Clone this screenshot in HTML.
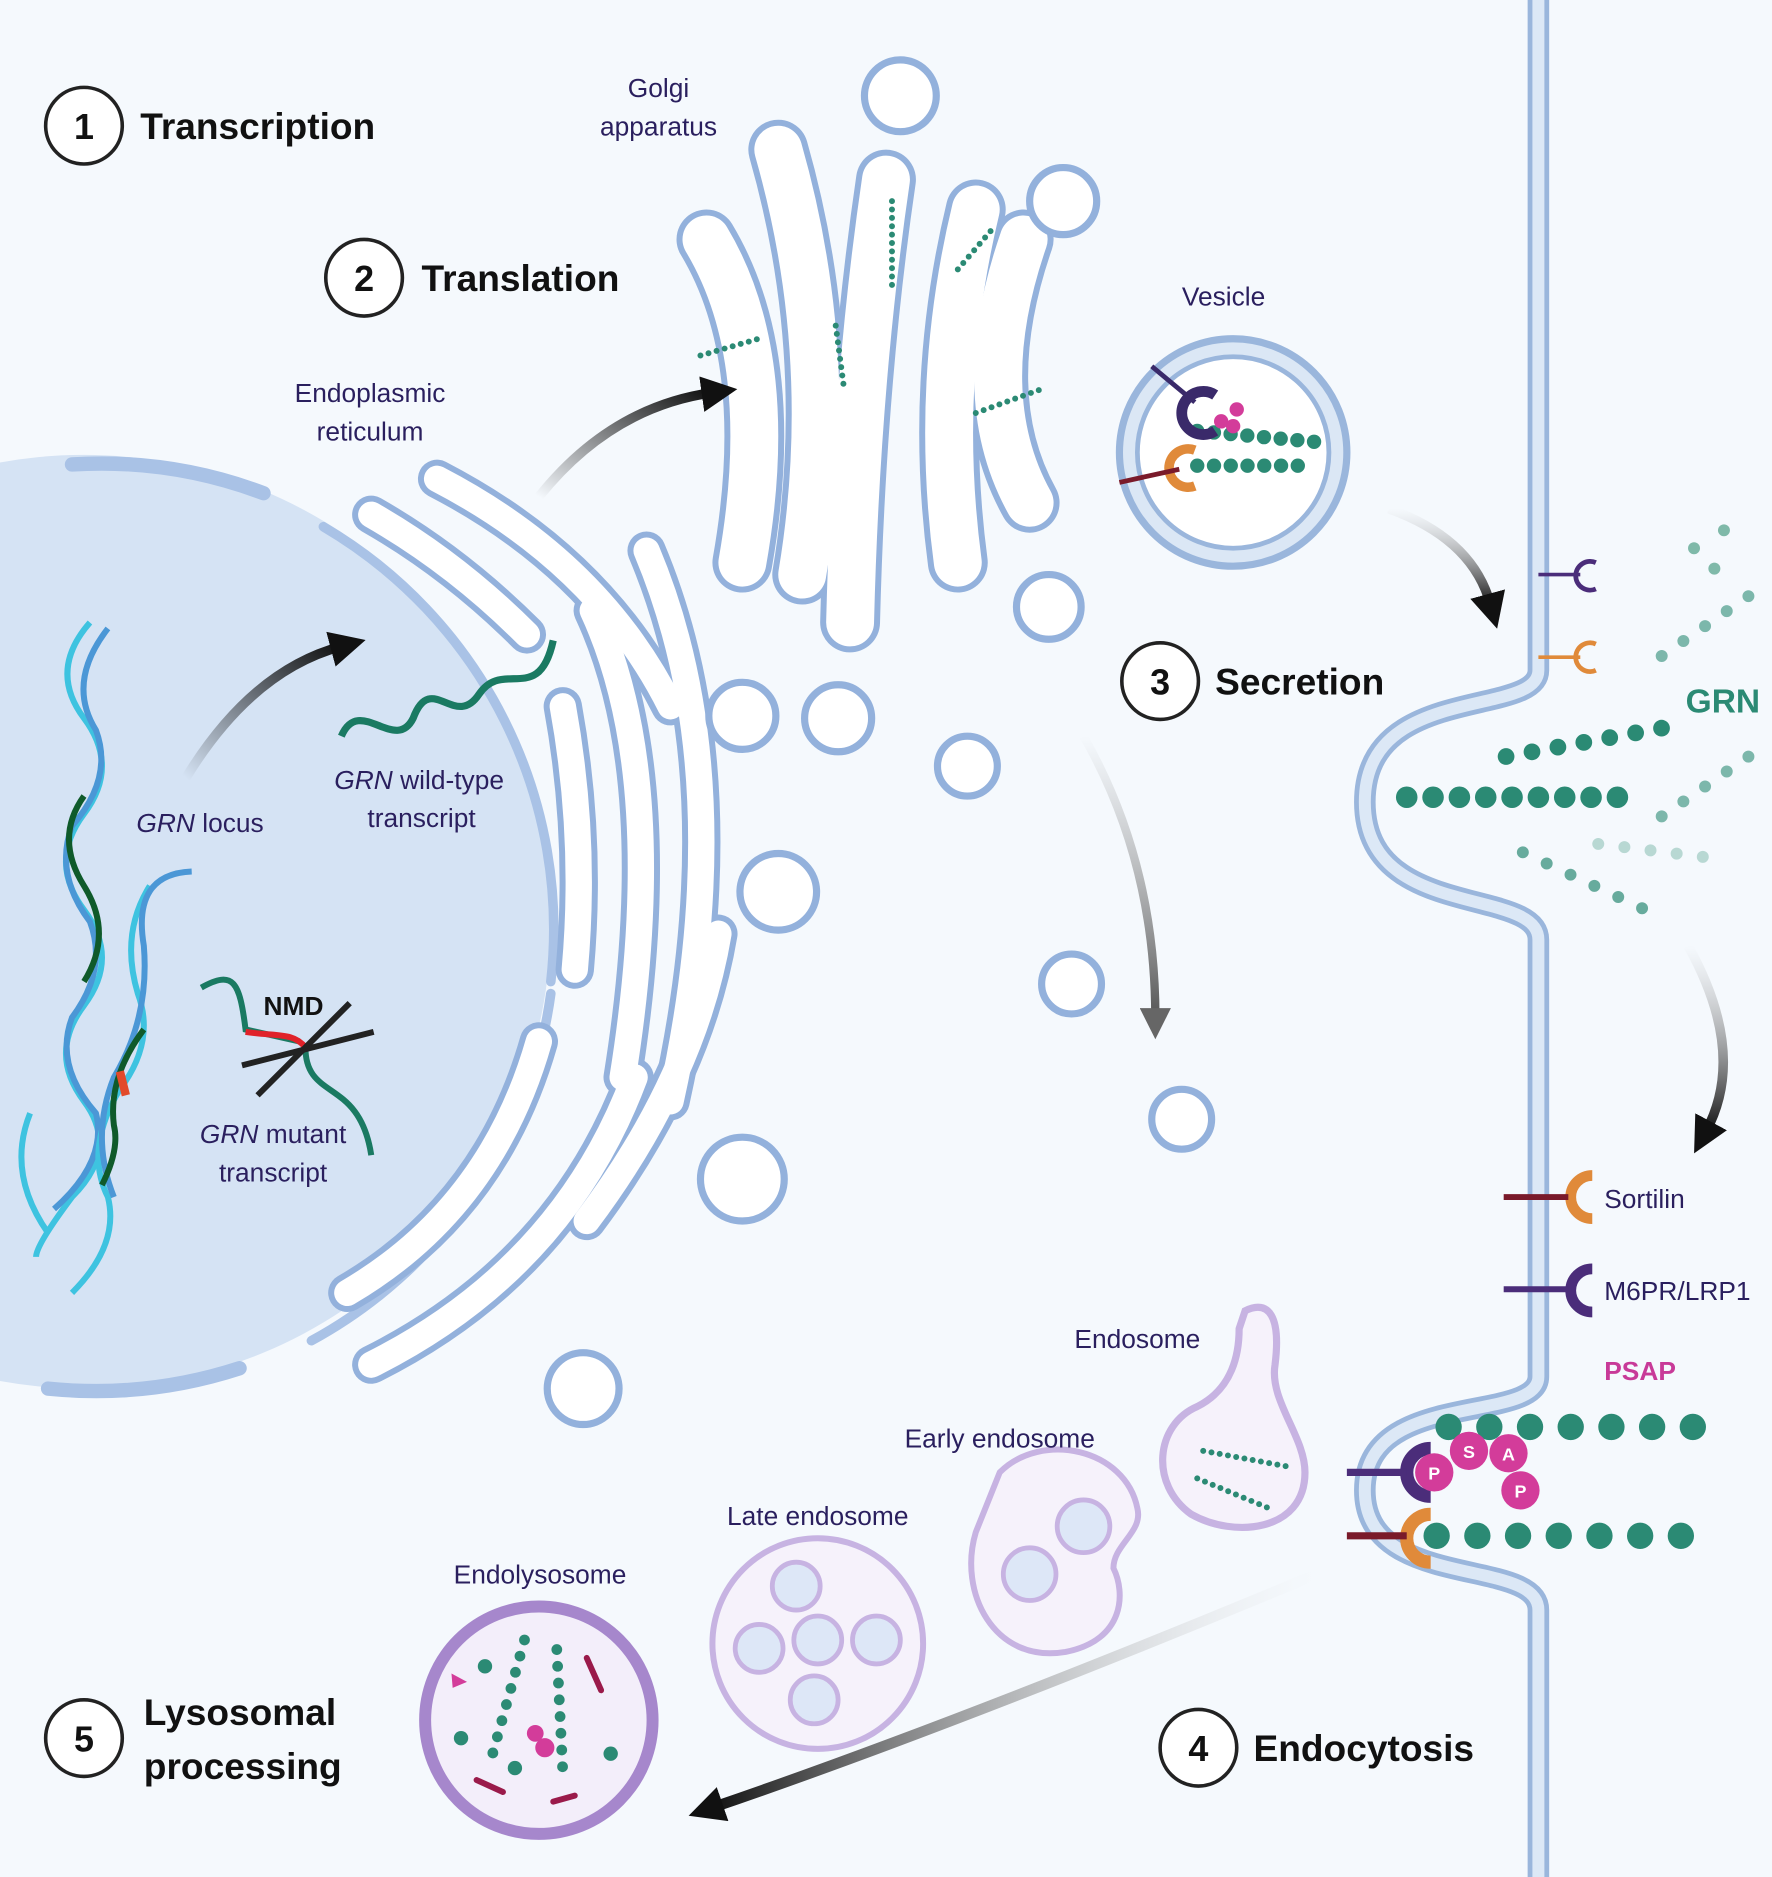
<!DOCTYPE html>
<html><head><meta charset="utf-8"><style>
html,body{margin:0;padding:0;background:#f5f9fd}
svg{display:block}
text{font-family:"Liberation Sans",sans-serif;fill:#2a1f5e}
.b{font-weight:bold;fill:#111}
.tb{fill:none;stroke:#93b1dc;stroke-linecap:round}
.tw{fill:none;stroke:#fff;stroke-linecap:round}
.ves{fill:#fff;stroke:#93b1dc;stroke-width:6}
.bead{fill:none;stroke:#2b8a74;stroke-linecap:round}
</style></head><body>
<svg width="1772" height="1877" viewBox="0 0 1480 1568" xmlns="http://www.w3.org/2000/svg">
<defs>
<linearGradient id="ga" x1="0" y1="1" x2="1" y2="0"><stop offset="0" stop-color="#000" stop-opacity="0"/><stop offset="1" stop-color="#111"/></linearGradient>
<linearGradient id="gb" x1="0" y1="0" x2="0" y2="1"><stop offset="0" stop-color="#999" stop-opacity="0"/><stop offset="1" stop-color="#555"/></linearGradient>
<linearGradient id="gc" x1="0" y1="0" x2="0" y2="1"><stop offset="0" stop-color="#aaa" stop-opacity="0"/><stop offset="1" stop-color="#111"/></linearGradient>
<linearGradient id="gd" x1="1" y1="0" x2="0" y2="0"><stop offset="0" stop-color="#ddd" stop-opacity="0"/><stop offset="1" stop-color="#111"/></linearGradient>
<marker id="ah" markerWidth="30" markerHeight="30" refX="3" refY="5" orient="auto" markerUnits="userSpaceOnUse" viewBox="0 0 10 10"><path d="M0 0 L10 5 L0 10z" fill="#111"/></marker>
<marker id="ah2" markerWidth="26" markerHeight="26" refX="3" refY="5" orient="auto" markerUnits="userSpaceOnUse" viewBox="0 0 10 10"><path d="M0 0 L10 5 L0 10z" fill="#666"/></marker>
<path id="e1" d="M310 430 Q380 470 440 530"/>
<path id="e2" d="M365 400 Q500 470 560 590"/>
<path id="e3" d="M470 590 Q490 700 480 810"/>
<path id="e4" d="M495 510 Q560 650 520 900"/>
<path id="e5" d="M540 460 Q620 650 560 920"/>
<path id="e6" d="M290 1080 Q410 1010 450 870"/>
<path id="e7" d="M310 1140 Q470 1060 530 900"/>
<path id="e8" d="M490 1020 Q580 900 600 780"/>
<path id="g1" d="M590 200 Q650 300 620 470"/>
<path id="g2" d="M650 125 Q700 300 670 480"/>
<path id="g3" d="M740 150 Q715 320 710 520"/>
<path id="g4" d="M815 175 Q780 320 800 470"/>
<path id="g5" d="M855 200 Q810 330 860 420"/>
</defs>
<rect width="1480" height="1568" fill="#f5f9fd"/>
<!-- nucleus -->
<circle cx="70" cy="770" r="390" fill="#d5e3f4"/>
<path d="M60 388 A385 385 0 0 1 220 412" fill="none" stroke="#a9c2e6" stroke-width="12" stroke-linecap="round"/>
<path d="M270 440 A390 390 0 0 1 460 820" fill="none" stroke="#a9c2e6" stroke-width="8" stroke-linecap="round"/>
<path d="M460 830 A390 390 0 0 1 260 1120" fill="none" stroke="#a9c2e6" stroke-width="8" stroke-linecap="round"/>
<path d="M200 1143 A390 390 0 0 1 40 1160" fill="none" stroke="#a9c2e6" stroke-width="12" stroke-linecap="round"/>
<!-- membrane -->
<path d="M1285 0 L1285 560 C1285 600 1140 570 1140 670 C1140 770 1285 740 1285 785 L1285 1150 C1285 1190 1140 1160 1140 1245 C1140 1330 1285 1300 1285 1345 L1285 1568" fill="none" stroke="#9ab6dc" stroke-width="18"/>
<path d="M1285 0 L1285 560 C1285 600 1140 570 1140 670 C1140 770 1285 740 1285 785 L1285 1150 C1285 1190 1140 1160 1140 1245 C1140 1330 1285 1300 1285 1345 L1285 1568" fill="none" stroke="#dce8f6" stroke-width="10"/>
<!-- ER tubes -->
<g class="tb" stroke-width="32"><use href="#e1"/><use href="#e2"/><use href="#e3"/><use href="#e4"/><use href="#e5"/><use href="#e6"/><use href="#e7"/><use href="#e8"/></g>
<g class="tw" stroke-width="22"><use href="#e1"/><use href="#e2"/><use href="#e3"/><use href="#e4"/><use href="#e5"/><use href="#e6"/><use href="#e7"/><use href="#e8"/></g>
<circle cx="620" cy="598" r="28" class="ves"/><circle cx="620" cy="985" r="35" class="ves"/>
<circle cx="700" cy="600" r="28" class="ves"/><circle cx="808" cy="640" r="25" class="ves"/>
<circle cx="650" cy="745" r="32" class="ves"/><circle cx="487" cy="1160" r="30" class="ves"/>
<circle cx="895" cy="822" r="25" class="ves"/><circle cx="987" cy="935" r="25" class="ves"/>
<!-- Golgi -->
<g class="tb" stroke-width="50"><use href="#g1"/><use href="#g2"/><use href="#g3"/><use href="#g4"/><use href="#g5"/></g>
<g class="tw" stroke-width="40"><use href="#g1"/><use href="#g2"/><use href="#g3"/><use href="#g4"/><use href="#g5"/></g>
<circle cx="752" cy="80" r="30" class="ves"/><circle cx="888" cy="168" r="28" class="ves"/><circle cx="876" cy="507" r="27" class="ves"/>
<g class="bead" stroke-width="5" stroke-dasharray="0 7"><path d="M585 297 L637 282"/><path d="M698 272 L705 325"/><path d="M745 168 L745 245"/><path d="M800 225 L830 190"/><path d="M815 345 L870 325"/></g>
<!-- big vesicle -->
<circle cx="1030" cy="378" r="95" fill="#dbe7f5" stroke="#9ab6dc" stroke-width="6"/>
<circle cx="1030" cy="378" r="80" fill="#fff" stroke="#9ab6dc" stroke-width="4"/>
<g class="bead" stroke-width="12" stroke-dasharray="0 14"><path d="M1000 360 L1108 370"/><path d="M1000 389 L1095 389"/></g>
<path d="M1015 330 A18 18 0 1 0 1015 360" fill="none" stroke="#3a2a6a" stroke-width="9"/>
<path d="M998 376 A16 16 0 1 0 998 406" fill="none" stroke="#e08a3a" stroke-width="8"/>
<line x1="962" y1="306" x2="998" y2="336" stroke="#3a2a6a" stroke-width="4"/>
<line x1="935" y1="403" x2="985" y2="392" stroke="#7a1a2a" stroke-width="4"/>
<circle cx="1020" cy="352" r="6" fill="#d33c9a"/><circle cx="1033" cy="342" r="6" fill="#d33c9a"/><circle cx="1030" cy="356" r="6" fill="#d33c9a"/>
<!-- receptors on membrane -->
<path d="M1333 470 A12 12 0 1 0 1333 492" fill="none" stroke="#4b2d7a" stroke-width="4"/><line x1="1285" y1="480" x2="1320" y2="480" stroke="#4b2d7a" stroke-width="3"/>
<path d="M1333 538 A12 12 0 1 0 1333 560" fill="none" stroke="#e08a3a" stroke-width="4"/><line x1="1285" y1="549" x2="1320" y2="549" stroke="#e08a3a" stroke-width="3"/>
<!-- GRN chains -->
<g class="bead" stroke-dasharray="0 22">
<path d="M1175 666 L1355 666" stroke-width="18"/>
<path d="M1258 632 L1395 607" stroke-width="14"/>
<path d="M1388 548 L1475 488" stroke-width="10" opacity=".6"/>
<path d="M1388 682 L1475 622" stroke-width="10" opacity=".6"/>
<path d="M1272 712 L1385 765" stroke-width="10" opacity=".7"/>
<path d="M1335 705 L1440 718" stroke-width="10" opacity=".3"/>
</g>
<circle cx="1415" cy="458" r="5" fill="#7fb9a9"/><circle cx="1440" cy="443" r="5" fill="#7fb9a9"/><circle cx="1432" cy="475" r="5" fill="#7fb9a9"/>
<text x="1408" y="595" font-size="28" font-weight="bold" style="fill:#2b8a74">GRN</text>
<!-- sortilin etc -->
<path d="M1330 982 A18 18 0 1 0 1330 1018" fill="none" stroke="#e08a3a" stroke-width="9"/><line x1="1256" y1="1000" x2="1310" y2="1000" stroke="#7a1a2a" stroke-width="5"/>
<path d="M1330 1060 A18 18 0 1 0 1330 1096" fill="none" stroke="#4b2d7a" stroke-width="9"/><line x1="1256" y1="1077" x2="1310" y2="1077" stroke="#4b2d7a" stroke-width="5"/>
<text x="1340" y="1009" font-size="22">Sortilin</text>
<text x="1340" y="1086" font-size="22">M6PR/LRP1</text>
<text x="1340" y="1153" font-size="22" font-weight="bold" style="fill:#c83a98">PSAP</text>
<g class="bead" stroke-width="22" stroke-dasharray="0 34"><path d="M1210 1192 L1445 1192"/><path d="M1200 1283 L1430 1283"/></g>
<path d="M1195 1210 A20 20 0 1 0 1195 1250" fill="none" stroke="#4b2d7a" stroke-width="11"/><line x1="1125" y1="1230" x2="1175" y2="1230" stroke="#4b2d7a" stroke-width="6"/>
<path d="M1195 1265 A20 20 0 1 0 1195 1305" fill="none" stroke="#e08a3a" stroke-width="11"/><line x1="1125" y1="1283" x2="1175" y2="1283" stroke="#7a1a2a" stroke-width="6"/>
<g font-size="15" font-weight="bold" text-anchor="middle">
<circle cx="1198" cy="1230" r="16" fill="#d33c9a"/><text x="1198" y="1236" style="fill:#fff">P</text>
<circle cx="1227" cy="1212" r="16" fill="#d33c9a"/><text x="1227" y="1218" style="fill:#fff">S</text>
<circle cx="1260" cy="1214" r="16" fill="#d33c9a"/><text x="1260" y="1220" style="fill:#fff">A</text>
<circle cx="1270" cy="1245" r="16" fill="#d33c9a"/><text x="1270" y="1251" style="fill:#fff">P</text>
</g>
<!-- endosomes -->
<path d="M1040 1095 C1060 1085 1070 1100 1065 1140 C1060 1170 1090 1200 1090 1230 C1090 1280 1030 1285 995 1265 C960 1240 965 1190 1000 1175 C1030 1160 1035 1130 1035 1110Z" fill="#f6f2fb" stroke="#c7b3e2" stroke-width="6"/>
<g class="bead" stroke-width="5" stroke-dasharray="0 7"><path d="M1005 1212 L1075 1225"/><path d="M1000 1235 L1060 1260"/></g>
<path d="M835 1230 C870 1195 940 1210 950 1260 C955 1280 930 1290 930 1310 C940 1330 940 1370 890 1380 C830 1390 800 1330 815 1280Z" fill="#f6f2fb" stroke="#c7b3e2" stroke-width="5"/>
<circle cx="905" cy="1275" r="22" fill="#dde7f7" stroke="#c7b3e2" stroke-width="4"/><circle cx="860" cy="1315" r="22" fill="#dde7f7" stroke="#c7b3e2" stroke-width="4"/>
<circle cx="683" cy="1373" r="88" fill="#f6f2fb" stroke="#c7b3e2" stroke-width="5"/>
<g fill="#dde7f7" stroke="#c7b3e2" stroke-width="4"><circle cx="665" cy="1325" r="20"/><circle cx="634" cy="1377" r="20"/><circle cx="683" cy="1370" r="20"/><circle cx="732" cy="1370" r="20"/><circle cx="680" cy="1420" r="20"/></g>
<circle cx="450" cy="1437" r="95" fill="#f3eefa" stroke="#a687cc" stroke-width="10"/>
<g class="bead" stroke-width="9" stroke-dasharray="0 14"><path d="M438 1370 L410 1470"/><path d="M465 1378 L470 1480"/></g>
<g fill="#2b8a74"><circle cx="405" cy="1392" r="6"/><circle cx="385" cy="1452" r="6"/><circle cx="430" cy="1477" r="6"/><circle cx="510" cy="1465" r="6"/></g>
<g stroke="#9a1a4a" stroke-width="5" stroke-linecap="round"><line x1="490" y1="1385" x2="502" y2="1412"/><line x1="398" y1="1487" x2="420" y2="1497"/><line x1="462" y1="1505" x2="480" y2="1500"/></g>
<circle cx="455" cy="1460" r="8" fill="#d33c9a"/><circle cx="447" cy="1448" r="7" fill="#d33c9a"/><path d="M377 1398 L390 1405 L378 1410Z" fill="#d33c9a"/>
<!-- DNA -->
<g fill="none" stroke-width="5">
<path d="M75 520 Q40 560 70 600 Q100 640 70 680 Q40 720 70 760 Q100 800 70 840 Q40 880 70 920 Q100 960 60 1000 Q30 1040 30 1050" stroke="#3ec3e0"/>
<path d="M90 525 Q55 570 80 610 Q95 650 60 690 Q45 730 75 770 Q90 810 60 850 Q45 890 80 930 Q90 970 45 1010" stroke="#4b97d6"/>
<path d="M70 665 Q45 700 70 740 Q95 780 70 820" stroke="#0f5a2a"/>
<path d="M125 740 Q100 780 115 830 Q130 870 100 910 Q70 960 90 1000 Q100 1040 60 1080" stroke="#3ec3e0"/>
<path d="M160 728 Q110 730 120 790 Q125 850 95 900 Q75 950 95 1000" stroke="#4b97d6"/>
<path d="M120 860 Q90 900 95 940 Q100 960 85 990" stroke="#0f5a2a"/>
<path d="M100 895 L105 915" stroke="#e24a2a" stroke-width="7"/>
<path d="M25 930 Q5 980 40 1030" stroke="#3ec3e0"/>
</g>
<!-- transcripts -->
<path d="M285 615 C300 580 330 630 345 600 C360 560 380 610 400 580 C420 550 450 590 462 535" fill="none" stroke="#1a7a62" stroke-width="6"/>
<path d="M168 825 C195 810 200 820 205 860 L250 870" fill="none" stroke="#1a7a62" stroke-width="5"/>
<path d="M205 862 C230 866 245 862 255 875" fill="none" stroke="#e0222a" stroke-width="5"/>
<path d="M255 875 C255 920 300 900 310 965" fill="none" stroke="#1a7a62" stroke-width="5"/>
<line x1="202" y1="890" x2="312" y2="862" stroke="#222" stroke-width="5"/><line x1="215" y1="915" x2="292" y2="838" stroke="#222" stroke-width="5"/>
<text x="220" y="848" font-size="22" font-weight="bold" style="fill:#111">NMD</text>
<!-- arrows -->
<path d="M155 650 Q210 560 285 540" fill="none" stroke="url(#ga)" stroke-width="8" marker-end="url(#ah)"/>
<path d="M450 415 Q510 340 595 328" fill="none" stroke="url(#ga)" stroke-width="8" marker-end="url(#ah)"/>
<path d="M1160 425 Q1230 450 1245 505" fill="none" stroke="url(#gc)" stroke-width="8" marker-end="url(#ah)"/>
<path d="M905 615 Q965 720 965 850" fill="none" stroke="url(#gb)" stroke-width="7" marker-end="url(#ah2)"/>
<path d="M1410 790 Q1460 880 1425 945" fill="none" stroke="url(#gc)" stroke-width="8" marker-end="url(#ah)"/>
<path d="M1100 1315 Q800 1440 595 1510" fill="none" stroke="url(#gd)" stroke-width="9" marker-end="url(#ah)"/>
<!-- numbered labels -->
<g fill="#fff" stroke="#222" stroke-width="3">
<circle cx="70" cy="105" r="32"/><circle cx="304" cy="232" r="32"/><circle cx="969" cy="569" r="32"/><circle cx="1001" cy="1460" r="32"/><circle cx="70" cy="1452" r="32"/></g>
<g font-size="30" font-weight="bold" text-anchor="middle">
<text x="70" y="116" style="fill:#111">1</text><text x="304" y="243" style="fill:#111">2</text><text x="969" y="580" style="fill:#111">3</text><text x="1001" y="1471" style="fill:#111">4</text><text x="70" y="1463" style="fill:#111">5</text></g>
<g font-size="31" class="b">
<text x="117" y="116" class="b">Transcription</text>
<text x="352" y="243" class="b">Translation</text>
<text x="1015" y="580" class="b">Secretion</text>
<text x="1047" y="1471" class="b">Endocytosis</text>
<text x="120" y="1441" class="b">Lysosomal</text>
<text x="120" y="1486" class="b">processing</text>
</g>
<g font-size="22" text-anchor="middle">
<text x="550" y="81">Golgi</text><text x="550" y="113">apparatus</text>
<text x="309" y="336">Endoplasmic</text><text x="309" y="368">reticulum</text>
<text x="1022" y="255">Vesicle</text>
<text x="167" y="695"><tspan font-style="italic">GRN</tspan> locus</text>
<text x="350" y="659"><tspan font-style="italic">GRN</tspan> wild-type</text><text x="352" y="691">transcript</text>
<text x="228" y="955"><tspan font-style="italic">GRN</tspan> mutant</text><text x="228" y="987">transcript</text>
<text x="950" y="1126">Endosome</text>
<text x="835" y="1209">Early endosome</text>
<text x="683" y="1274">Late endosome</text>
<text x="451" y="1323">Endolysosome</text>
</g>
</svg>
</body></html>
